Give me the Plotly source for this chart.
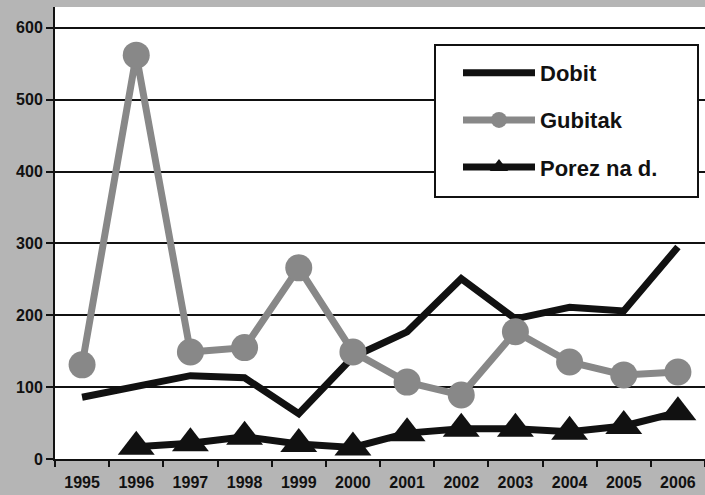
import plotly.graph_objects as go

years = ["1995", "1996", "1997", "1998", "1999", "2000", "2001", "2002", "2003", "2004", "2005", "2006"]
dobit = [86, 100, 116, 113, 63, 142, 177, 251, 195, 211, 206, 295]
gubitak = [131, 562, 149, 155, 266, 149, 107, 89, 177, 135, 117, 121]
porez = [None, 17, 22, 31, 21, 16, 36, 42, 42, 38, 46, 65]
y_ticks = [0, 100, 200, 300, 400, 500, 600]

FONT = "Liberation Sans, Arial, sans-serif"

fig = go.Figure()
fig.add_trace(go.Scatter(x=years, y=dobit, name="Dobit", mode="lines",
                         line=dict(color="#111111", width=7), legendgroup="a"))
fig.add_trace(go.Scatter(x=years, y=gubitak, name="Gubitak", mode="lines+markers",
                         line=dict(color="#888888", width=7),
                         marker=dict(symbol="circle", size=27, color="#888888"), legendgroup="b"))
fig.add_trace(go.Scatter(x=years, y=porez, name="Porez na d.", mode="lines+markers",
                         line=dict(color="#111111", width=7),
                         marker=dict(symbol="triangle-up", size=32, color="#111111"), legendgroup="c"))

# legend box
fig.add_shape(type="rect", xref="paper", yref="paper",
              x0=(435 - 55) / 650, x1=(698 - 55) / 650,
              y0=(459 - 197) / 452, y1=(459 - 45) / 452,
              line=dict(color="#111111", width=2), fillcolor="white", layer="above")

fig.update_layout(
    width=705, height=495,
    margin=dict(l=55, r=0, t=7, b=36),
    paper_bgcolor="#b5b5b5", plot_bgcolor="white",
    font=dict(family=FONT, color="#111111", weight="bold"),
    showlegend=True,
    legend=dict(x=(458 - 55) / 650, y=(459 - 52) / 452, xanchor="left", yanchor="top",
                bgcolor="rgba(0,0,0,0)", borderwidth=0, itemwidth=72,
                font=dict(size=22, family=FONT, weight="bold", color="#111111"),
                tracegroupgap=15.5, traceorder="grouped"),
    xaxis=dict(type="category", showgrid=False, showline=True, linecolor="#111111", linewidth=2,
               ticks="outside", tickson="boundaries", ticklen=6, tickwidth=2, tickcolor="#111111",
               ticklabelstandoff=8,
               tickfont=dict(size=16, family=FONT, weight="bold"), range=[-0.5, 11.5]),
    yaxis=dict(range=[0, 629], tickvals=y_ticks, showgrid=True, gridcolor="#111111", gridwidth=2,
               showline=True, linecolor="#111111", linewidth=2, zeroline=False,
               ticks="outside", ticklen=7, tickwidth=2, tickcolor="#111111",
               tickfont=dict(size=16, family=FONT, weight="bold")),
)

fig.write_html("out.html", config={"displayModeBar": False},
               post_script="document.body.style.margin='0';")
